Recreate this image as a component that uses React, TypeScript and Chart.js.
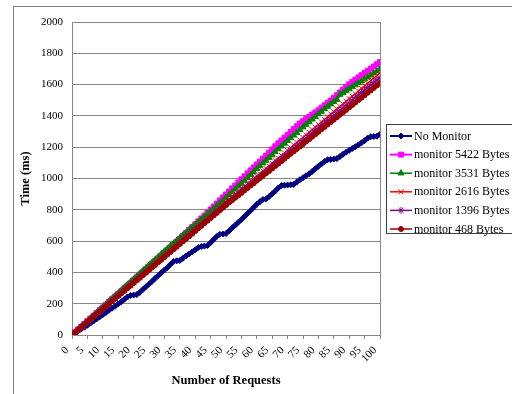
import React, { useEffect, useRef } from 'react';
import { Chart, registerables } from 'chart.js';
import { drawPoint } from 'chart.js/helpers';

Chart.register(...registerables);

const requests = [
  0, 1, 2, 3, 4, 5, 6, 7, 8, 9, 10, 11, 12, 13, 14, 15, 16, 17, 18, 19, 20,
  21, 22, 23, 24, 25, 26, 27, 28, 29, 30, 31, 32, 33, 34, 35, 36, 37, 38, 39, 40,
  41, 42, 43, 44, 45, 46, 47, 48, 49, 50, 51, 52, 53, 54, 55, 56, 57, 58, 59, 60,
  61, 62, 63, 64, 65, 66, 67, 68, 69, 70, 71, 72, 73, 74, 75, 76, 77, 78, 79, 80,
  81, 82, 83, 84, 85, 86, 87, 88, 89, 90, 91, 92, 93, 94, 95, 96, 97, 98, 99, 100,
];

const noMonitor = [
  0, 14, 27, 38, 50, 62, 76, 89, 103, 116, 130, 143, 158, 171, 184, 198, 213, 228, 243, 253, 255,
  258, 272, 290, 308, 325, 343, 362, 380, 398, 415, 432, 452, 470, 474, 476, 490, 505, 518, 531, 545,
  559, 566, 568, 572, 590, 610, 630, 643, 645, 648, 665, 685, 702, 720, 738, 757, 776, 795, 815, 835,
  852, 866, 870, 885, 902, 920, 940, 955, 957, 958, 960, 962, 978, 992, 1005, 1018, 1030, 1045, 1062, 1078,
  1093, 1108, 1120, 1122, 1124, 1127, 1140, 1155, 1168, 1180, 1192, 1203, 1215, 1228, 1242, 1258, 1267, 1268, 1270, 1282,
];

const monitor5422 = [
  0, 17, 35, 52, 70, 88, 105, 123, 141, 158, 176, 193, 211, 229, 246, 263, 281, 299, 316, 333, 351,
  368, 386, 404, 421, 438, 456, 474, 491, 508, 526, 543, 561, 580, 597, 615, 634, 652, 671, 689, 707,
  726, 745, 763, 783, 802, 821, 840, 860, 879, 898, 917, 937, 955, 975, 995, 1014, 1033, 1052, 1071, 1090,
  1108, 1127, 1146, 1166, 1186, 1206, 1225, 1243, 1261, 1279, 1298, 1316, 1334, 1352, 1366, 1380, 1394, 1409, 1422, 1436,
  1452, 1468, 1484, 1498, 1515, 1532, 1550, 1568, 1585, 1602, 1618, 1632, 1646, 1660, 1674, 1688, 1702, 1716, 1730, 1744,
];

const monitor3531 = [
  0, 18, 36, 54, 71, 89, 107, 125, 143, 160, 178, 196, 214, 232, 250, 267, 285, 303, 321, 339, 356,
  374, 392, 410, 428, 446, 463, 481, 499, 517, 535, 552, 569, 586, 603, 620, 637, 654, 671, 688, 705,
  722, 739, 756, 773, 790, 807, 824, 841, 858, 877, 895, 913, 932, 950, 968, 987, 1005, 1024, 1042, 1063,
  1080, 1098, 1115, 1133, 1150, 1170, 1188, 1206, 1224, 1242, 1259, 1276, 1293, 1312, 1328, 1345, 1361, 1378, 1395, 1412,
  1428, 1444, 1460, 1475, 1490, 1504, 1536, 1547, 1560, 1572, 1585, 1597, 1610, 1622, 1635, 1647, 1660, 1673, 1686, 1700,
];

const monitor2616 = [
  0, 17, 35, 51, 68, 86, 102, 119, 137, 153, 170, 187, 204, 221, 238, 255, 272, 289, 306, 323, 340,
  357, 374, 389, 408, 425, 442, 459, 476, 493, 510, 527, 544, 561, 578, 595, 612, 631, 646, 663, 680,
  697, 714, 731, 746, 765, 782, 799, 816, 833, 850, 866, 883, 899, 916, 932, 949, 965, 984, 998, 1015,
  1031, 1048, 1064, 1081, 1097, 1114, 1130, 1147, 1163, 1180, 1196, 1213, 1231, 1246, 1262, 1279, 1295, 1312, 1328, 1345,
  1361, 1378, 1394, 1411, 1427, 1446, 1460, 1477, 1493, 1510, 1526, 1541, 1559, 1576, 1592, 1609, 1625, 1642, 1658, 1675,
];

const monitor1396 = [
  0, 17, 34, 50, 67, 84, 101, 118, 134, 151, 168, 185, 202, 218, 235, 252, 269, 286, 302, 319, 336,
  353, 370, 386, 403, 420, 437, 454, 470, 487, 504, 521, 538, 554, 571, 588, 605, 622, 638, 655, 672,
  689, 706, 722, 739, 756, 773, 790, 806, 823, 840, 856, 872, 888, 904, 920, 937, 953, 969, 985, 1001,
  1017, 1033, 1049, 1065, 1082, 1098, 1114, 1130, 1146, 1162, 1178, 1194, 1210, 1227, 1243, 1259, 1275, 1291, 1307, 1323,
  1339, 1355, 1372, 1388, 1404, 1420, 1436, 1452, 1468, 1484, 1500, 1517, 1533, 1549, 1565, 1581, 1597, 1613, 1629, 1645,
];

const monitor468 = [
  0, 17, 33, 50, 66, 83, 100, 116, 133, 149, 166, 183, 199, 216, 232, 249, 266, 282, 299, 315, 332,
  349, 365, 382, 398, 415, 432, 448, 465, 481, 498, 515, 531, 548, 564, 581, 598, 614, 631, 647, 664,
  681, 697, 714, 730, 747, 764, 780, 797, 813, 830, 846, 861, 877, 892, 908, 924, 939, 955, 970, 986,
  1002, 1017, 1033, 1048, 1064, 1080, 1095, 1111, 1126, 1142, 1158, 1173, 1189, 1204, 1220, 1236, 1251, 1267, 1282, 1298,
  1314, 1329, 1345, 1360, 1376, 1392, 1407, 1423, 1438, 1454, 1470, 1485, 1501, 1516, 1532, 1548, 1563, 1579, 1594, 1610,
];

const seriesNames = [
  'No Monitor',
  'monitor 5422 Bytes',
  'monitor 3531 Bytes',
  'monitor 2616 Bytes',
  'monitor 1396 Bytes',
  'monitor 468 Bytes',
];
const seriesValues = [noMonitor, monitor5422, monitor3531, monitor2616, monitor1396, monitor468];
const seriesColors = ['#000080', '#ff00ff', '#008000', '#ff0000', '#800080', '#990000'];
const seriesMarkers = ['rectRot', 'rect', 'triangle', 'crossRot', 'star', 'circle'];
const markerRadius = [3, 3.5, 3.5, 3.5, 3.5, 2.5];
const lineWidths = [2, 2, 1.5, 1.5, 1.5, 1.5];

const yTitle = 'Time (ms)';
const xTitle = 'Number of Requests';

const FONT = "'Liberation Serif', 'Times New Roman', serif";
const GRID = '#878787';

const framePlugin = {
  id: 'frame',
  afterDraw(chart: any) {
    const ctx = chart.ctx;
    ctx.save();
    ctx.strokeStyle = '#7f7f7f';
    ctx.lineWidth = 1;
    ctx.strokeRect(13.5, 6.5, 700, 700);
    ctx.restore();
  },
};

const plotBorderPlugin = {
  id: 'plotBorder',
  beforeDatasetsDraw(chart: any) {
    const { ctx, chartArea } = chart;
    ctx.save();
    ctx.strokeStyle = GRID;
    ctx.lineWidth = 1;
    ctx.beginPath();
    ctx.moveTo(Math.round(chartArea.right) + 0.5, chartArea.top);
    ctx.lineTo(Math.round(chartArea.right) + 0.5, chartArea.bottom);
    ctx.stroke();
    ctx.restore();
  },
};

const legendPlugin = {
  id: 'boxLegend',
  afterDraw(chart: any) {
    const ctx = chart.ctx;
    const left = 386.5;
    const top = 124.5;
    const rowH = 18.6;
    ctx.save();
    ctx.fillStyle = '#ffffff';
    ctx.fillRect(left, top, 200, 109);
    ctx.strokeStyle = '#404040';
    ctx.lineWidth = 1;
    ctx.strokeRect(left, top, 200, 109);
    chart.data.datasets.forEach((ds: any, i: number) => {
      const y = top + 11.5 + i * rowH;
      ctx.strokeStyle = ds.borderColor;
      ctx.lineWidth = ds.borderWidth;
      ctx.beginPath();
      ctx.moveTo(390, y);
      ctx.lineTo(412, y);
      ctx.stroke();
      ctx.fillStyle = ds.pointBackgroundColor;
      ctx.strokeStyle = ds.pointBorderColor;
      ctx.lineWidth = ds.pointBorderWidth;
      drawPoint(ctx, { pointStyle: ds.pointStyle, radius: ds.pointRadius, rotation: 0, borderWidth: ds.pointBorderWidth }, 401, y);
      ctx.fillStyle = '#000000';
      ctx.font = `12px ${FONT}`;
      ctx.textBaseline = 'middle';
      ctx.textAlign = 'left';
      ctx.fillText(ds.label, 414, y + 0.5);
    });
    ctx.restore();
  },
};

export default function App() {
  const canvasRef = useRef<HTMLCanvasElement | null>(null);

  useEffect(() => {
    if (!canvasRef.current) return;
    const datasets = seriesNames.map((name, i) => ({
      label: name,
      data: seriesValues[i],
      borderColor: seriesColors[i],
      backgroundColor: seriesColors[i],
      borderWidth: lineWidths[i],
      pointStyle: seriesMarkers[i],
      pointRadius: markerRadius[i],
      pointBackgroundColor: seriesColors[i],
      pointBorderColor: seriesColors[i],
      pointBorderWidth: 1,
      tension: 0,
      fill: false,
      order: seriesNames.length - i,
    }));
    const chart = new Chart(canvasRef.current, {
      type: 'line',
      data: { labels: requests, datasets },
      options: {
        responsive: false,
        animation: false,
        events: [],
        layout: { padding: { left: 13, top: 22, right: 132, bottom: 0 } },
        plugins: { legend: { display: false }, tooltip: { enabled: false } },
        scales: {
          x: {
            type: 'linear',
            min: 0,
            max: 100,
            afterFit(scale: any) {
              scale.height = 59;
            },
            ticks: {
              stepSize: 5,
              minRotation: 45,
              maxRotation: 45,
              autoSkip: false,
              padding: 5,
              labelOffset: -5,
              color: '#000000',
              font: { family: FONT, size: 11 },
              callback: (v: any) => String(v),
            },
            grid: { drawOnChartArea: false, tickLength: 4, color: GRID },
            border: { color: GRID },
            title: {
              display: true,
              text: xTitle,
              color: '#000000',
              font: { family: FONT, size: 12.5, weight: 'bold' },
              padding: { top: 0, bottom: 6 },
            },
          },
          y: {
            min: 0,
            max: 2000,
            afterFit(scale: any) {
              scale.width = 59;
            },
            ticks: {
              stepSize: 200,
              padding: 9,
              color: '#000000',
              font: { family: FONT, size: 11 },
              callback: (v: any) => String(v),
            },
            grid: { drawTicks: false, color: GRID },
            border: { color: GRID },
            title: {
              display: true,
              text: yTitle,
              color: '#000000',
              font: { family: FONT, size: 12.5, weight: 'bold' },
              padding: { top: 5, bottom: 0 },
            },
          },
        },
      },
      plugins: [framePlugin, plotBorderPlugin, legendPlugin],
    } as any);
    return () => chart.destroy();
  }, []);

  return (
    <div style={{ position: 'absolute', left: 0, top: 0, width: 512, height: 394, background: '#ffffff' }}>
      <canvas ref={canvasRef} width={512} height={394} style={{ display: 'block' }} />
    </div>
  );
}
